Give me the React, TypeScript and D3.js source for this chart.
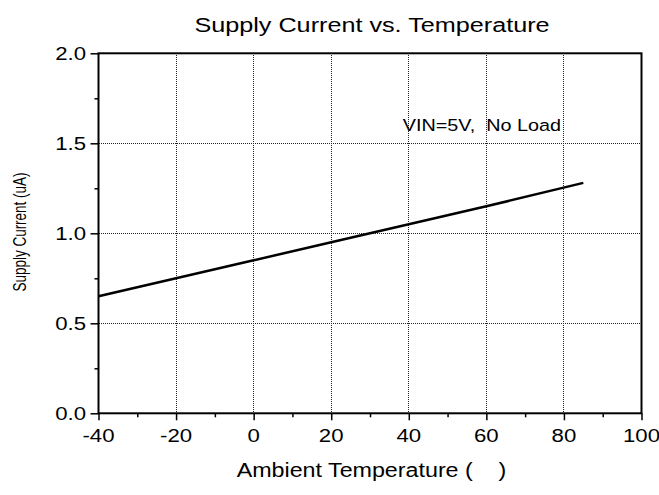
import React, { useEffect, useRef } from 'react';
import * as d3 from 'd3';

const temps = [-40, -20, 0, 20, 40, 60, 85];
const current = [0.65, 0.75, 0.85, 0.95, 1.05, 1.15, 1.28];
const xTicks = [-40, -20, 0, 20, 40, 60, 80, 100];
const xMinor = [-30, -10, 10, 30, 50, 70, 90];
const yTicks = [0, 0.5, 1.0, 1.5, 2.0];
const yMinor = [0.25, 0.75, 1.25, 1.75];

const FONT = 'Arial, "Liberation Sans", sans-serif';
const SX = 1.2; // the source picture is stretched sideways

const App = () => {
  const ref = useRef<SVGSVGElement | null>(null);

  useEffect(() => {
    if (!ref.current) return;
    const svg = d3.select(ref.current);
    svg.selectAll('*').remove();

    const left = 98.5, right = 641.5, top = 53.3, bottom = 413.3;
    const x = d3.scaleLinear().domain([-40, 100]).range([left, right]);
    const y = d3.scaleLinear().domain([0, 2]).range([bottom, top]);

    // grid
    const grid = svg.append('g')
      .attr('stroke', '#222')
      .attr('stroke-width', 1)
      .attr('stroke-dasharray', '1,1')
      .attr('shape-rendering', 'crispEdges');
    grid.selectAll('.vg')
      .data(xTicks.slice(1, -1))
      .enter().append('line')
      .attr('x1', d => x(d)).attr('x2', d => x(d))
      .attr('y1', top).attr('y2', bottom);
    grid.selectAll('.hg')
      .data(yTicks.slice(1, -1))
      .enter().append('line')
      .attr('x1', left).attr('x2', right)
      .attr('y1', d => y(d)).attr('y2', d => y(d));

    // ticks (labels drawn by hand below)
    const xAx = svg.append('g').attr('transform', `translate(0,${bottom})`);
    xAx.call(d3.axisBottom(x).tickValues(xTicks).tickSize(7).tickFormat(() => '').tickSizeOuter(0));
    xAx.append('g').call(d3.axisBottom(x).tickValues(xMinor).tickSize(4).tickFormat(() => '').tickSizeOuter(0));
    const yAx = svg.append('g').attr('transform', `translate(${left},0)`);
    yAx.call(d3.axisLeft(y).tickValues(yTicks).tickSize(8).tickFormat(() => '').tickSizeOuter(0));
    yAx.append('g').call(d3.axisLeft(y).tickValues(yMinor).tickSize(4).tickFormat(() => '').tickSizeOuter(0));
    svg.selectAll('.domain').remove();
    svg.selectAll('.tick line').attr('stroke', '#000').attr('stroke-width', 1.5);

    // frame
    svg.append('rect')
      .attr('x', left).attr('y', top)
      .attr('width', right - left).attr('height', bottom - top)
      .attr('fill', 'none').attr('stroke', '#000').attr('stroke-width', 2);

    // data line
    const line = d3.line<number>()
      .x((d, i) => x(temps[i]))
      .y(d => y(d));
    svg.append('path')
      .datum(current)
      .attr('d', line)
      .attr('fill', 'none')
      .attr('stroke', '#000')
      .attr('stroke-width', 2.5);

    const label = (tx: number, ty: number, txt: string, size: number, anchor: string) => {
      svg.append('g')
        .attr('transform', `translate(${tx},${ty}) scale(${SX},1)`)
        .append('text')
        .attr('text-anchor', anchor)
        .style('font-family', FONT)
        .style('font-size', `${size}px`)
        .style('white-space', 'pre')
        .attr('fill', '#000')
        .text(txt);
    };

    xTicks.forEach(t => label(x(t), bottom + 28.4, String(t), 18.5, 'middle'));
    yTicks.forEach(t => label(86, y(t) + 6.7, d3.format('.1f')(t), 18.5, 'end'));

    label(372, 32.3, 'Supply Current vs. Temperature', 21, 'middle');
    label(371.5, 476.7, 'Ambient Temperature (    )', 19.4, 'middle');
    label(402.7, 130.7, 'VIN=5V,  No Load', 16.5, 'start');

    svg.append('g')
      .attr('transform', `translate(26,232) scale(1.3,1) rotate(-90)`)
      .append('text')
      .attr('text-anchor', 'middle')
      .style('font-family', FONT)
      .style('font-size', '13.5px')
      .attr('fill', '#000')
      .text('Supply Current (uA)');
  }, []);

  return (
    <svg
      ref={ref}
      width={659}
      height={495}
      style={{ position: 'absolute', left: 0, top: 0, background: '#fff' }}
    />
  );
};

export default App;
